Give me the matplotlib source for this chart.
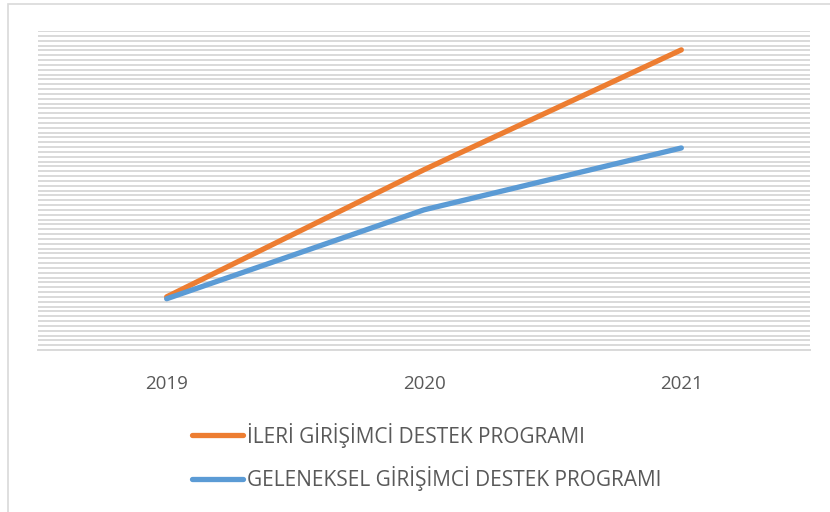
import matplotlib.pyplot as plt
from matplotlib.patches import Rectangle
import numpy as np

# data (no y labels shown, so arbitrary units)
years = ["2019", "2020", "2021"]
ileri = [11.0, 37.3, 62.1]
geleneksel = [10.6, 29.0, 41.8]
series_names = ["İLERİ GİRİŞİMCİ DESTEK PROGRAMI",
                "GELENEKSEL GİRİŞİMCİ DESTEK PROGRAMI"]

orange = "#ED7D31"
blue = "#5B9BD5"
grid_col = "#d9d9d9"
text_col = "#595959"

W, H = 830, 512
fig = plt.figure(figsize=(W / 100, H / 100), dpi=100)
ax = fig.add_axes([38 / W, (H - 350) / H, (810 - 38) / W, (350 - 31) / H])

x = np.arange(len(years))
l1, = ax.plot(x, ileri, color=orange, lw=3.8, solid_capstyle="round")
l2, = ax.plot(x, geleneksel, color=blue, lw=3.8, solid_capstyle="round")

ax.set_xlim(-0.5, len(years) - 0.5)
ax.set_ylim(0, 66)
ax.set_yticks(np.arange(0, 67, 1))
ax.yaxis.grid(True, color=grid_col, lw=1.4)
ax.set_axisbelow(True)
ax.tick_params(axis="y", left=False, labelleft=False)
ax.set_xticks(x)
ax.set_xticklabels(years, fontsize=13.5, color=text_col, family="Open Sans")
ax.tick_params(axis="x", length=0, pad=18)
for s in ["top", "right", "left"]:
    ax.spines[s].set_visible(False)
ax.spines["bottom"].set_color(grid_col)
ax.spines["bottom"].set_linewidth(1.4)

# legend below the plot, stacked
leg = fig.legend([l1, l2], series_names, loc="upper left",
                 bbox_to_anchor=(173 / W, 1 - 404 / H), frameon=False,
                 handlelength=2.45, handletextpad=0.22, labelspacing=0.88,
                 prop={"family": "Open Sans", "size": 15})
for t in leg.get_texts():
    t.set_color(text_col)

# chart border (only top and left visible in the reference)
fig.patches.append(Rectangle((8 / W, -0.1), 1.2, 1.1 - 3.5 / H,
                             transform=fig.transFigure, fill=False,
                             edgecolor=grid_col, lw=1.2))

fig.savefig("out.png", dpi=100)
